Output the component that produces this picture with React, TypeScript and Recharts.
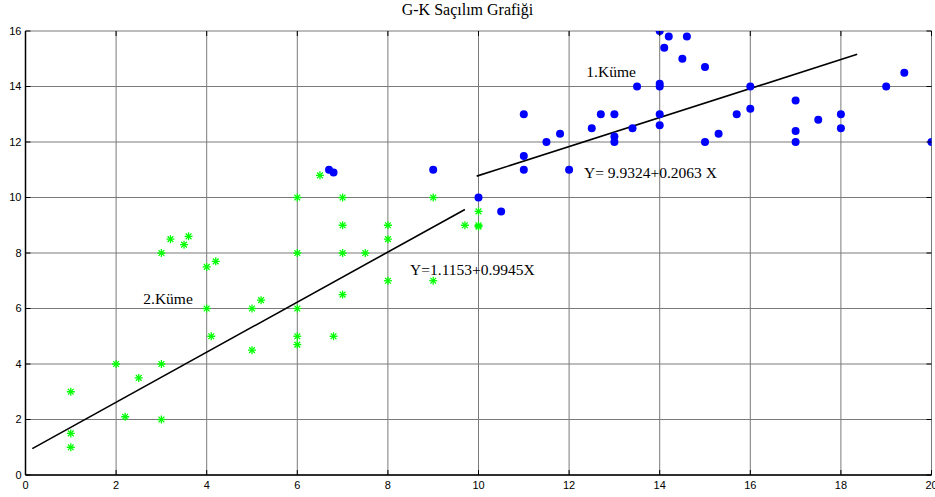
import { CartesianGrid, ReferenceDot, Scatter, ScatterChart, XAxis, YAxis } from "recharts"

// tick labels
const xTicks = [0, 2, 4, 6, 8, 10, 12, 14, 16, 18, 20]
const yTicks = [0, 2, 4, 6, 8, 10, 12, 14, 16]

// 1.Küme (blue dots)
const cluster1 = [
  { x: 6.7, y: 11.0 }, { x: 6.8, y: 10.9 }, { x: 9, y: 11 }, { x: 10, y: 10 }, { x: 10.5, y: 9.5 },
  { x: 11, y: 13 }, { x: 11, y: 11.5 }, { x: 11, y: 11 }, { x: 11.5, y: 12 }, { x: 11.8, y: 12.3 },
  { x: 12, y: 11 }, { x: 12.5, y: 12.5 }, { x: 12.7, y: 13 }, { x: 13, y: 13 }, { x: 13, y: 12.2 },
  { x: 13, y: 12 }, { x: 13.4, y: 12.5 }, { x: 13.5, y: 14 }, { x: 14, y: 16 }, { x: 14.2, y: 15.8 },
  { x: 14.1, y: 15.4 }, { x: 14.6, y: 15.8 }, { x: 14.5, y: 15 }, { x: 15, y: 14.7 }, { x: 14, y: 14.1 },
  { x: 14, y: 14 }, { x: 14, y: 13 }, { x: 14, y: 12.6 }, { x: 15, y: 12 }, { x: 15.3, y: 12.3 },
  { x: 15.7, y: 13 }, { x: 16, y: 14 }, { x: 16, y: 13.2 }, { x: 17, y: 13.5 }, { x: 17, y: 12.4 },
  { x: 17, y: 12 }, { x: 17.5, y: 12.8 }, { x: 18, y: 13 }, { x: 18, y: 12.5 }, { x: 19, y: 14 },
  { x: 19.4, y: 14.5 }, { x: 20, y: 12 },
]

// 2.Küme (green stars)
const cluster2 = [
  { x: 1, y: 3 }, { x: 1, y: 1.5 }, { x: 1, y: 1 }, { x: 2, y: 4 }, { x: 2.2, y: 2.1 },
  { x: 2.5, y: 3.5 }, { x: 3, y: 4 }, { x: 3, y: 2 }, { x: 3, y: 8 }, { x: 3.2, y: 8.5 },
  { x: 3.5, y: 8.3 }, { x: 3.6, y: 8.6 }, { x: 4, y: 7.5 }, { x: 4.2, y: 7.7 }, { x: 4, y: 6 },
  { x: 4.1, y: 5 }, { x: 5, y: 6 }, { x: 5.2, y: 6.3 }, { x: 5, y: 4.5 }, { x: 6, y: 10 },
  { x: 6, y: 8 }, { x: 6, y: 6 }, { x: 6, y: 5 }, { x: 6, y: 4.7 }, { x: 6.5, y: 10.8 },
  { x: 6.8, y: 5 }, { x: 7, y: 10 }, { x: 7, y: 9 }, { x: 7, y: 8 }, { x: 7, y: 6.5 },
  { x: 7.5, y: 8 }, { x: 8, y: 9 }, { x: 8, y: 8.5 }, { x: 8, y: 7 }, { x: 9, y: 10 },
  { x: 9, y: 7 }, { x: 9.7, y: 9 }, { x: 10, y: 9.5 }, { x: 10, y: 9 }, { x: 10, y: 8.95 },
]

// fitted lines, as drawn
const fit1 = [{ x: 9.96, y: 10.77 }, { x: 18.36, y: 15.16 }]
const fit2 = [{ x: 0.15, y: 0.95 }, { x: 9.7, y: 9.57 }]

const notes = [
  { x: 12.38, y: 14.34, text: "1.Küme" },
  { x: 12.33, y: 10.7, text: "Y= 9.9324+0.2063 X" },
  { x: 8.49, y: 7.2, text: "Y=1.1153+0.9945X" },
  { x: 2.6, y: 6.16, text: "2.Küme" },
]

const W = 935
const H = 497
const TOP = 31
const BOTTOM = 475
const LEFT = 25.5
const RIGHT = 931.5
const SERIF = "'Liberation Serif', 'Times New Roman', serif"
const SANS = "'Liberation Sans', Arial, sans-serif"

function XTick(props: any) {
  const { x, y, payload } = props
  return (
    <g>
      <line x1={x} x2={x} y1={y} y2={y - 5} stroke="#000" />
      <line x1={x} x2={x} y1={TOP} y2={TOP + 5} stroke="#000" />
      <text x={x} y={y + 13.5} textAnchor="middle" fontSize={11} fontFamily={SANS} fill="#000">
        {payload.value}
      </text>
    </g>
  )
}

function YTick(props: any) {
  const { x, y, payload } = props
  return (
    <g>
      <line x1={x} x2={x + 5} y1={y} y2={y} stroke="#000" />
      <line x1={RIGHT} x2={RIGHT - 5} y1={y} y2={y} stroke="#000" />
      <text x={x - 4} y={y} dy="0.36em" textAnchor="end" fontSize={11} fontFamily={SANS} fill="#000">
        {payload.value}
      </text>
    </g>
  )
}

const Dot = (p: any) => <circle cx={p.cx} cy={p.cy} r={4} fill="#0000ff" />

const Star = (p: any) => {
  const r = 4
  const d = r * 0.72
  return (
    <g stroke="#00ff00" strokeWidth={1.3}>
      <line x1={p.cx - r} x2={p.cx + r} y1={p.cy} y2={p.cy} />
      <line x1={p.cx} x2={p.cx} y1={p.cy - r} y2={p.cy + r} />
      <line x1={p.cx - d} x2={p.cx + d} y1={p.cy - d} y2={p.cy + d} />
      <line x1={p.cx - d} x2={p.cx + d} y1={p.cy + d} y2={p.cy - d} />
    </g>
  )
}

export default function App() {
  return (
    <div style={{ position: "absolute", left: 0, top: 0, width: W, height: H, background: "#fff" }}>
      <div
        style={{
          position: "absolute", left: 0, top: 2, width: W - 0, textAlign: "center",
          fontFamily: SERIF, fontSize: 16, lineHeight: "16px", color: "#000",
        }}
      >
        G-K Saçılım Grafiği
      </div>
      <ScatterChart width={W} height={H} margin={{ top: TOP, right: W - RIGHT, bottom: 0, left: 0 }}>
        <CartesianGrid stroke="#7a7a7a" strokeWidth={1} />
        <XAxis
          type="number" dataKey="x" domain={[0, 20]} ticks={xTicks} interval={0}
          height={H - BOTTOM} tickSize={0} tickMargin={0} tickLine={false}
          axisLine={{ stroke: "#000", strokeWidth: 1.5 }} tick={<XTick />} allowDataOverflow
        />
        <YAxis
          type="number" dataKey="y" domain={[0, 16]} ticks={yTicks} interval={0}
          width={LEFT} tickSize={0} tickMargin={0} tickLine={false}
          axisLine={{ stroke: "#000", strokeWidth: 1.5 }} tick={<YTick />} allowDataOverflow
        />
        <Scatter data={fit2} line={{ stroke: "#000", strokeWidth: 1.6 }} shape={() => <g />} isAnimationActive={false} />
        <Scatter data={fit1} line={{ stroke: "#000", strokeWidth: 1.6 }} shape={() => <g />} isAnimationActive={false} />
        <Scatter data={cluster2} shape={Star} isAnimationActive={false} />
        <Scatter data={cluster1} shape={Dot} isAnimationActive={false} />
        {notes.map((n) => (
          <ReferenceDot
            key={n.text} x={n.x} y={n.y} r={0} ifOverflow="visible"
            shape={(p: any) => (
              <text x={p.cx} y={p.cy} fontSize={15.5} fontFamily={SERIF} fill="#000">
                {n.text}
              </text>
            )}
          />
        ))}
      </ScatterChart>
    </div>
  )
}
